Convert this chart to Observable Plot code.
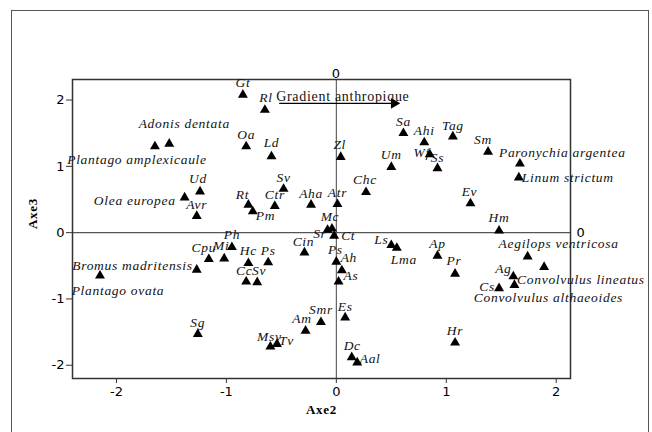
<!DOCTYPE html>
<html><head><meta charset="utf-8">
<script src="https://cdn.jsdelivr.net/npm/d3@7"></script>
<script src="https://cdn.jsdelivr.net/npm/@observablehq/plot@0.6"></script>
<style>
body{margin:0;background:#fff;overflow:hidden}
#wrap{position:relative;width:652px;height:432px;overflow:hidden;background:#fff}
#wrap svg{position:absolute;left:0;top:0}
#border{position:absolute;left:11px;top:10px;width:638px;height:440px;border:1.5px solid #555;box-sizing:border-box;pointer-events:none;background:transparent}
svg g[aria-label="text"] text{letter-spacing:0.7px}
</style></head><body><div id="wrap"></div>
<script>
const species = ["Gt","Rl","Oa","Adonis dentata","Plantago amplexicaule","Ud","Olea europea","Avr","Rt","Pm",
  "Ctr","Sv","Aha","Atr","Ld","Zl","Sa","Ahi","Wf","Ss",
  "Um","Chc","Tag","Sm","Paronychia argentea","Linum strictum","Ev","Hm","Aegilops ventricosa","Convolvulus lineatus",
  "Ag","Cs","Convolvulus althaeoides","Pr","Ap","Ls","Lma","Mc","Sr","Ct",
  "Ps","Ah","As","Cin","Ph","Cpu","Mi","Hc","Ps","Cc",
  "Sv","Bromus madritensis","Plantago ovata","Sg","Smr","Am","Es","Msy","Tv","Dc",
  "Aal","Hr"];
const axe2 = [-0.85,-0.65,-0.82,-1.52,-1.65,-1.24,-1.38,-1.27,-0.80,-0.76,
  -0.56,-0.48,-0.23,0.01,-0.59,0.04,0.61,0.80,0.85,0.92,
  0.50,0.27,1.06,1.38,1.67,1.66,1.22,1.48,1.74,1.89,
  1.61,1.48,1.62,1.08,0.92,0.50,0.55,-0.04,-0.08,-0.02,
  0.00,0.05,0.02,-0.29,-0.95,-1.16,-1.02,-0.80,-0.62,-0.82,
  -0.72,-1.27,-2.15,-1.26,-0.14,-0.28,0.08,-0.60,-0.54,0.14,
  0.19,1.08];
const axe3 = [2.08,1.85,1.30,1.34,1.30,0.62,0.53,0.25,0.42,0.32,
  0.40,0.66,0.42,0.43,1.15,1.14,1.50,1.36,1.18,0.97,
  0.99,0.61,1.45,1.22,1.04,0.83,0.44,0.03,-0.36,-0.52,
  -0.66,-0.84,-0.79,-0.62,-0.35,-0.19,-0.23,0.06,0.04,-0.05,
  -0.44,-0.57,-0.74,-0.30,-0.22,-0.40,-0.39,-0.46,-0.45,-0.74,
  -0.75,-0.56,-0.65,-1.53,-1.35,-1.48,-1.28,-1.72,-1.68,-1.88,
  -1.96,-1.66];
const xTicks = [-2,-1,0,1,2];
const yTicks = [-2,-1,0,1,2];
const zeroMarks = [0];
const gradientArrow = [{x1:-0.52, x2:0.525, y:1.95, label:"Gradient anthropique"}];
const axisTitleX = "Axe2";
const axisTitleY = "Axe3";

// label placement relative to each triangle (pixels): [dx, dy, anchor]
const labelPlacement = [
  [0,-12,"m"],[1,-12,"m"],[0,-12,"m"],[15,-20,"m"],[-18,13,"m"],[-2,-13,"m"],[-9,3.5,"e"],[0,-11,"m"],[-6,-10,"m"],[3,4.5,"s"],
  [0,-11.5,"m"],[0,-11,"m"],[0,-11,"m"],[0,-11,"m"],[0,-13.5,"m"],[-1,-12.5,"m"],[0,-12,"m"],[0,-12,"m"],[-8,-2,"m"],[0,-11,"m"],
  [0,-12,"m"],[-1,-12.5,"m"],[0,-11,"m"],[-5,-12,"m"],[-21,-11,"s"],[3,0,"s"],[-1,-12,"m"],[0,-12.5,"m"],[31,-12.5,"m"],[-27,12.5,"s"],
  [-10,-8,"m"],[-12,-2,"m"],[34,13,"m"],[-1,-13,"m"],[0,-12,"m"],[-10,-5.5,"m"],[7,12,"m"],[-2,-12,"m"],[-1,4,"e"],[7,0,"s"],
  [-1,-12.5,"m"],[7,-12.5,"m"],[12.5,-6.5,"m"],[-1,-11,"m"],[0,-12.5,"m"],[-5,-11.5,"m"],[-3,-12.5,"m"],[0,-12.5,"m"],[0,-12,"m"],[-2,-11,"m"],
  [2,-12,"m"],[-4,-4.5,"e"],[18,14.5,"m"],[0,-11,"m"],[0,-12,"m"],[-3.5,-12,"m"],[0,-11,"m"],[-1,-10.5,"m"],[9.5,-3.5,"m"],[0.5,-12,"m"],
  [2.5,-4,"s"],[0,-12,"m"]
];

const serif = "'Liberation Serif','Times New Roman',serif";
const sans = "'DejaVu Sans',sans-serif";
const anchorMap = {m:"middle", s:"start", e:"end"};
const idx = d3.range(species.length);

const labelMarks = idx.map(i => Plot.text([i], {
  x: j => axe2[j], y: j => axe3[j], text: j => species[j],
  dx: labelPlacement[i][0], dy: labelPlacement[i][1],
  textAnchor: anchorMap[labelPlacement[i][2]],
  fontFamily: serif, fontStyle: "italic", fontSize: 13.5, fill: "#111"
}));

const chart = Plot.plot({
  width: 652, height: 432,
  marginLeft: 72, marginRight: 82, marginTop: 79, marginBottom: 54,
  x: {domain: [-2.4, 2.13]},
  y: {domain: [-2.2, 2.31]},
  style: {background: "transparent"},
  marks: [
    Plot.ruleX(zeroMarks, {stroke: "#555", strokeWidth: 1.1}),
    Plot.ruleY(zeroMarks, {stroke: "#555", strokeWidth: 1.1}),
    Plot.frame({stroke: "#333", strokeWidth: 1.5}),
    Plot.axisX({ticks: xTicks, tickSize: 5, tickPadding: 3, tickFormat: d => String(d), fontFamily: sans, fontSize: 13, label: null, stroke: "#333"}),
    Plot.axisY({ticks: yTicks, tickSize: 6, tickPadding: 2, tickFormat: d => String(d), fontFamily: sans, fontSize: 13, label: null, stroke: "#333"}),
    Plot.text(zeroMarks, {x: d => d, frameAnchor: "top", dy: -11, text: d => String(d), fontFamily: sans, fontSize: 13}),
    Plot.text(zeroMarks, {y: d => d, frameAnchor: "right", textAnchor: "start", dx: 6, text: d => String(d), fontFamily: sans, fontSize: 13}),
    Plot.link(gradientArrow, {x1: "x1", x2: "x2", y1: "y", y2: "y", stroke: "#000", strokeWidth: 1.2}),
    Plot.dot(gradientArrow, {x: "x2", y: "y", symbol: "triangle", rotate: 90, r: 4, fill: "#000", stroke: null}),
    Plot.text(gradientArrow, {x: "x1", y: "y", text: "label", textAnchor: "start", dx: -3, dy: -7, fontFamily: serif, fontSize: 14, fill: "#111"}),
    Plot.dot(idx, {x: i => axe2[i], y: i => axe3[i], symbol: "triangle", r: 3.7, fill: "#000", stroke: null}),
    ...labelMarks,
    Plot.text([axisTitleX], {frameAnchor: "bottom", dy: 35, text: d => d, fontFamily: serif, fontWeight: "bold", fontSize: 13}),
    Plot.text([axisTitleY], {frameAnchor: "left", dx: -40, rotate: -90, text: d => d, fontFamily: serif, fontWeight: "bold", fontSize: 13})
  ]
});
const wrap = document.getElementById("wrap");
wrap.appendChild(chart);
const border = document.createElement("div");
border.id = "border";
wrap.appendChild(border);
</script>
</body></html>
